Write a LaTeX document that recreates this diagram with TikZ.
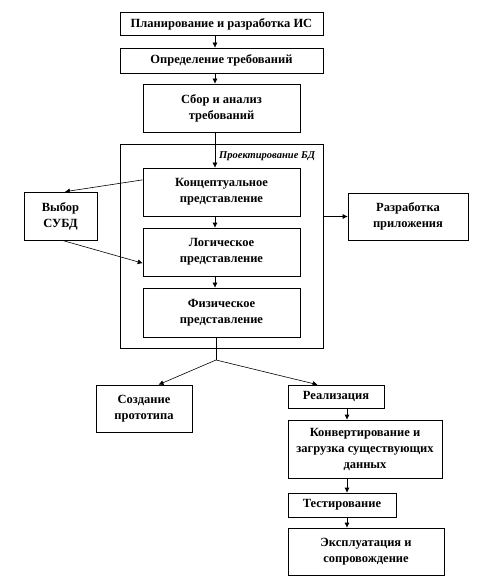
\documentclass[tikz,border=0pt]{standalone}
\usepackage{fontspec}
\setmainfont{Liberation Serif}
\usetikzlibrary{arrows.meta,calc}
\begin{document}
\begin{tikzpicture}[x=1pt,y=-1pt,
  box/.style={draw,line width=0.6pt,align=center,inner sep=1pt,
    font=\fontsize{12.5}{16}\selectfont\bfseries},
  arr/.style={line width=0.6pt,-{Latex[length=5pt,width=5pt]}},
  ln/.style={line width=0.6pt}]
\useasboundingbox (0,0) rectangle (492,588);
\coordinate (trunk) at (215,0);
\coordinate (col) at (347,0);
\node[box,minimum width=203pt,minimum height=23pt] (b1) at (221.5,24) {Планирование и разработка ИС};
\node[box,minimum width=203pt,minimum height=25pt] (b2) at (221.5,60.5) {Определение требований};
\node[box,minimum width=157pt,minimum height=48pt] (b3) at (221.5,108) {Сбор и анализ\\требований};
\node[draw,line width=0.6pt,minimum width=203pt,minimum height=204pt,inner sep=0pt] (frame) at (221.5,246) {};
\node[font=\fontsize{10.5}{13}\selectfont\bfseries\itshape,anchor=west,inner sep=0pt] (lbl) at (219,156) {Проектирование БД};
\node[box,minimum width=157pt,minimum height=48pt] (concept) at (221.5,192) {Концептуальное\\представление};
\node[box,minimum width=157pt,minimum height=48pt] (logic) at (221.5,252) {Логическое\\представление};
\node[box,minimum width=157pt,minimum height=49pt] (phys) at (221.5,312.5) {Физическое\\представление};
\node[box,minimum width=73pt,minimum height=48pt] (vybor) at (60.5,216) {Выбор\\СУБД};
\node[box,minimum width=120pt,minimum height=47pt] (razrab) at (408,216.5) {Разработка\\приложения};
\node[box,minimum width=96pt,minimum height=47pt] (sozd) at (144,408.5) {Создание\\прототипа};
\node[box,minimum width=96pt,minimum height=23pt] (real) at (336,396.5) {Реализация};
\node[box,minimum width=154pt,minimum height=58pt] (konv) at (365,449) {Конвертирование и\\загрузка существующих\\данных};
\node[box,minimum width=108pt,minimum height=24pt] (test) at (342,505) {Тестирование};
\node[box,minimum width=156pt,minimum height=47pt] (expl) at (366,551.5) {Эксплуатация и\\сопровождение};
\coordinate (split) at (216,360);
\draw[arr] (b1.south -| trunk) -- (b2.north -| trunk);
\draw[arr] (b2.south -| trunk) -- (b3.north -| trunk);
\draw[arr] (b3.south -| trunk) -- (concept.north -| trunk);
\draw[arr] (concept.south -| trunk) -- (logic.north -| trunk);
\draw[arr] (logic.south -| trunk) -- (phys.north -| trunk);
\draw[arr] ($(concept.north west)!0.25!(concept.south west)$) -- ($(vybor.north west)!0.56!(vybor.north east)$);
\draw[arr] ($(vybor.south west)!0.52!(vybor.south east)$) -- ($(logic.north west)!0.73!(logic.south west)$);
\draw[arr] (frame.east |- razrab.west) -- (razrab.west);
\draw[ln] (phys.south -| split) -- (split);
\draw[arr] (split) -- ($(sozd.north west)!0.65!(sozd.north east)$);
\draw[arr] (split) -- ($(real.north west)!0.31!(real.north east)$);
\draw[arr] (real.south -| col) -- (konv.north -| col);
\draw[arr] (konv.south -| col) -- (test.north -| col);
\draw[arr] (test.south -| col) -- (expl.north -| col);
\end{tikzpicture}
\end{document}
